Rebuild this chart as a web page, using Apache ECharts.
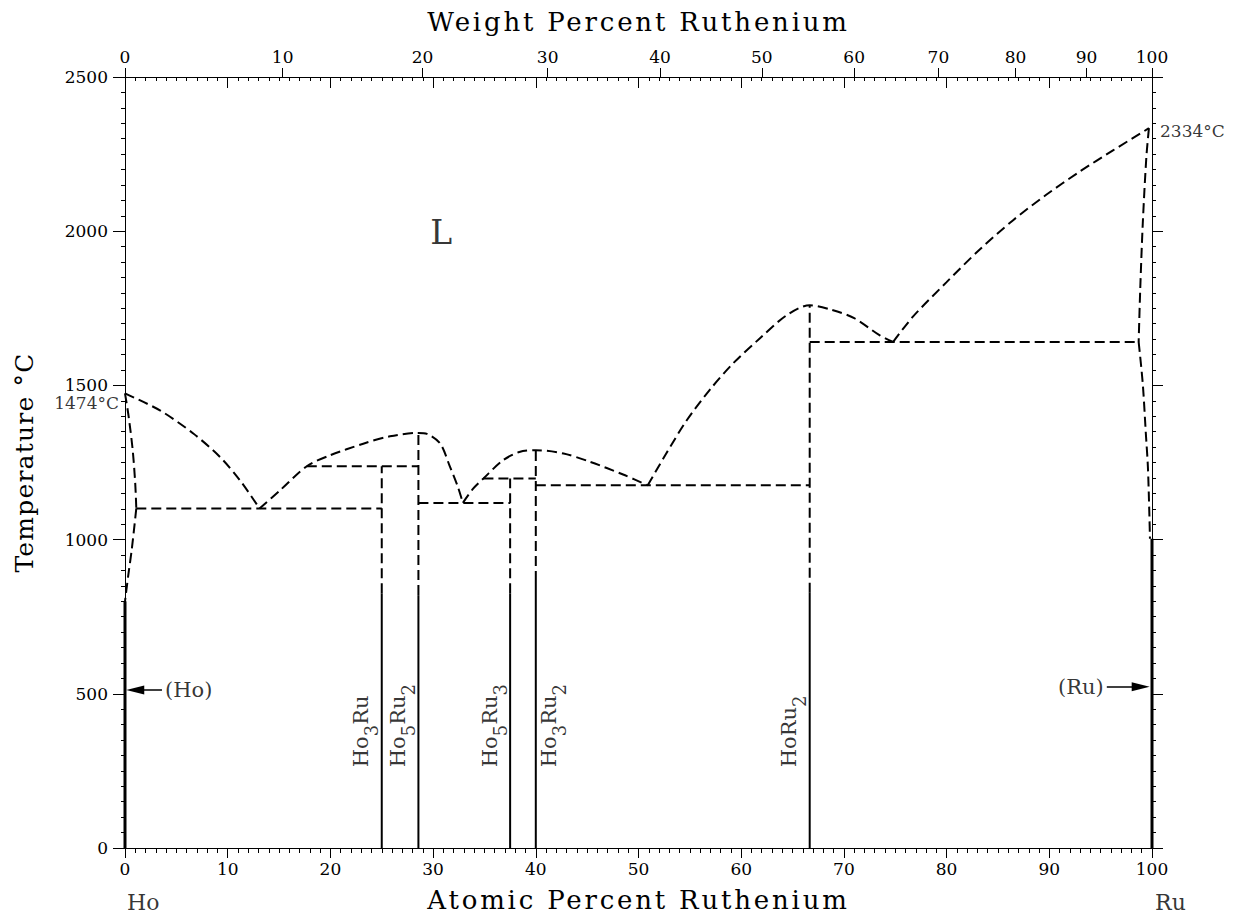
<!DOCTYPE html>
<html>
<head>
<meta charset="utf-8">
<script src="https://cdn.jsdelivr.net/npm/echarts@6/dist/echarts.min.js"></script>
<style>
html,body{margin:0;padding:0;background:#fff;}
#chart{width:1233px;height:918px;}
#chart text[style*="26px"]{letter-spacing:2.8px;}
#chart text[style*="25px"]{letter-spacing:1.2px;}
</style>
</head>
<body>
<div id="chart"></div>
<script>
// ---------- axis / tick data ----------
const MASS_HO = 164.93;
const MASS_RU = 101.07;
const atomicRange = [0, 100];
const atomicStep = 10;
const tempRange = [0, 2500];
const tempStep = 500;
const weightTickLabels = [0, 10, 20, 30, 40, 50, 60, 70, 80, 90, 100];

// ---------- phase boundaries (at.% Ru, °C) ----------
const liquidusHoSide   = [[0,1474],[3.4,1419],[6.65,1344],[9.25,1268],[11.2,1192],[13.1,1101]];
const liquidusHo5Ru2   = [[13.1,1101],[15.1,1160],[17.7,1238],[19.95,1273],[23.2,1311],[25.8,1335],[28.57,1346],[29.4,1343],[30.7,1311],[31.6,1240],[32.4,1172],[32.9,1119]];
const liquidusHo3Ru2   = [[32.9,1119],[33.9,1165],[34.9,1198],[36.8,1257],[38.4,1284],[40,1290],[42.7,1279],[45.3,1252],[48.5,1211],[50.9,1176]];
const liquidusHoRu2    = [[50.9,1176],[52.7,1279],[54.7,1387],[56.9,1484],[59.2,1571],[61.8,1652],[64.4,1727],[66.67,1760],[68.8,1745],[71,1718],[73.5,1662],[74.8,1641]];
const liquidusRuSide   = [[74.8,1641],[76.7,1722],[80,1835],[83.2,1940],[86.45,2035],[89.7,2118],[92.9,2192],[96.2,2262],[99.7,2334]];
const solvusHoUpper    = [[0,1474],[0.35,1400],[0.75,1290],[1.0,1180],[1.1,1101]];
const solvusHoLower    = [[1.1,1101],[0.65,966],[0.3,880],[0,800]];
const solvusRuUpper    = [[99.7,2334],[99.45,2240],[99.1,2024],[98.85,1808],[98.7,1641]];
const solvusRuLower    = [[98.7,1641],[99.1,1506],[99.4,1344],[99.6,1236],[99.75,1074],[99.8,1003]];

// invariant (horizontal) reactions
const invariantT    = [1101, 1238, 1119, 1198, 1176, 1641];
const invariantFrom = [1.1, 17.7, 28.57, 34.9, 40, 66.67];
const invariantTo   = [25, 28.57, 37.5, 40, 66.67, 98.7];

// intermediate compounds
const compoundNames    = ['Ho3Ru', 'Ho5Ru2', 'Ho5Ru3', 'Ho3Ru2', 'HoRu2'];
const compoundX        = [25, 28.57, 37.5, 40, 66.67];
const compoundTopT     = [1238, 1346, 1198, 1290, 1760];
const compoundSolidTop = [826, 820, 826, 866, 828];

// pure elements (solid solution ranges at low T)
const elementX        = [0, 100];
const elementSolidTop = [800, 1003];

// text annotations
const annotationTexts = ['L', '1474°C', '2334°C', '(Ho)', '(Ru)', 'Ho', 'Ru'];
const arrowLabels = ['(Ho)', '(Ru)'];
const arrowT      = [512, 523];
const arrowFrom   = [3.6, 95.6];
const arrowTo     = [1.0, 98.9];

// ---------- helpers ----------
const FONT = 'DejaVu Serif';
const BLACK = '#000';
function wtToAt(w) { const r = w / MASS_RU, h = (100 - w) / MASS_HO; return 100 * r / (r + h); }
function atToWt(a) { const r = a * MASS_RU, h = (100 - a) * MASS_HO; return 100 * r / (r + h); }
const weightTickPos = weightTickLabels.map(wtToAt);

const DASH = [10, 5];
function lineSeries(data, dashed, width, smooth) {
  return {
    type: 'line', xAxisIndex: 0, yAxisIndex: 0, data: data,
    symbol: 'none', clip: false, silent: true, smooth: smooth || false,
    lineStyle: { color: BLACK, width: width, type: dashed ? DASH : 'solid', cap: 'butt' },
    z: 3
  };
}

const series = [];
[liquidusHoSide, liquidusHo5Ru2, liquidusHo3Ru2, liquidusHoRu2, liquidusRuSide,
 solvusHoUpper, solvusHoLower, solvusRuUpper, solvusRuLower].forEach(d => series.push(lineSeries(d, true, 2, 0.3)));
invariantT.forEach((t, i) => series.push(lineSeries([[invariantFrom[i], t], [invariantTo[i], t]], true, 2)));
compoundX.forEach((x, i) => {
  series.push(lineSeries([[x, compoundSolidTop[i]], [x, compoundTopT[i]]], true, 2));
  series.push(lineSeries([[x, 0], [x, compoundSolidTop[i]]], false, 2));
});
elementX.forEach((x, i) => series.push(lineSeries([[x, 0], [x, elementSolidTop[i]]], false, 3)));

// compound labels (rotated, with subscripts)
const COMPOUND_LABEL_T = 262;
function formula(name) {
  return name.match(/[A-Za-z]+|\d+/g).map(t => /\d/.test(t) ? '{s|' + t + '}' : '{n|' + t + '}').join('');
}
series.push({
  type: 'scatter', xAxisIndex: 0, yAxisIndex: 0, symbolSize: 0, clip: false, silent: true, z: 5,
  data: compoundNames.map((n, i) => ({
    value: [compoundX[i], COMPOUND_LABEL_T], name: n,
    label: { verticalAlign: n === 'Ho3Ru2' ? 'top' : 'bottom', position: [n === 'Ho3Ru2' ? 3 : -1, 0] }
  })),
  label: {
    show: true, rotate: 90, align: 'left', verticalAlign: 'bottom', position: [0, 0],
    formatter: p => formula(p.name),
    color: BLACK, fontFamily: FONT, fontSize: 21, lineHeight: 30,
    rich: {
      n: { color: BLACK, fontFamily: FONT, fontSize: 21, lineHeight: 30, verticalAlign: 'top' },
      s: { color: BLACK, fontFamily: FONT, fontSize: 18, lineHeight: 30, verticalAlign: 'bottom' }
    }
  }
});

// free text annotations + arrows
const annotationCfg = {
  'L':      { at: [30.8, 1996], size: 33, align: 'center', dx: 0 },
  '1474°C': { at: [0, 1442],    size: 17, align: 'right',  dx: -6 },
  '2334°C': { at: [100, 2326],  size: 17, align: 'left',   dx: 8 },
  '(Ho)':   { at: [3.9, 512],   size: 21, align: 'left',   dx: 0 },
  '(Ru)':   { at: [95.3, 523],  size: 21, align: 'right',  dx: 0 },
  'Ho':     { at: [0.2, -178],  size: 22, align: 'left',   dx: 0 },
  'Ru':     { at: [100.3, -178],size: 22, align: 'left',   dx: 0 }
};
series.push({
  type: 'scatter', xAxisIndex: 0, yAxisIndex: 0, symbolSize: 0, clip: false, silent: true, z: 5,
  data: annotationTexts.map(t => {
    const c = annotationCfg[t];
    return {
      value: c.at, name: t,
      label: { show: true, formatter: t, position: [c.dx, 0], align: c.align, verticalAlign: 'middle',
               fontSize: c.size, lineHeight: Math.round(c.size * 0.85), fontFamily: FONT, color: BLACK }
    };
  }),
  markLine: {
    silent: true, animation: false, symbol: ['none', 'triangle'], symbolSize: [9, 18],
    lineStyle: { color: BLACK, width: 1.5, type: 'solid' },
    label: { show: false },
    data: arrowLabels.map((l, i) => [{ coord: [arrowFrom[i], arrowT[i]] }, { coord: [arrowTo[i], arrowT[i]] }])
  }
});

const axisLineStyle = { color: BLACK, width: 1 };
const labelStyle = { color: BLACK, fontFamily: FONT, fontSize: 17, lineHeight: 14 };
const GRID = { left: 125, right: 81, top: 77, bottom: 70 };

const option = {
  animation: false,
  backgroundColor: '#fff',
  grid: [Object.assign({}, GRID), Object.assign({}, GRID)],
  xAxis: [
    { gridIndex: 0, type: 'value', position: 'bottom', min: atomicRange[0], max: atomicRange[1], interval: atomicStep,
      axisLine: { show: true, onZero: false, lineStyle: axisLineStyle },
      axisTick: { show: true, inside: false, length: 10, lineStyle: axisLineStyle },
      minorTick: { show: true, splitNumber: 10, length: 5, lineStyle: axisLineStyle },
      axisLabel: Object.assign({ margin: 14, formatter: v => String(v) }, labelStyle),
      splitLine: { show: false }, minorSplitLine: { show: false },
      name: 'Atomic Percent Ruthenium', nameLocation: 'middle', nameGap: 39,
      nameTextStyle: { color: BLACK, fontFamily: FONT, fontSize: 26 } },
    { gridIndex: 0, type: 'value', position: 'top', min: atomicRange[0], max: atomicRange[1], interval: atomicStep,
      axisLine: { show: true, onZero: false, lineStyle: axisLineStyle },
      axisTick: { show: true, inside: true, length: 11, lineStyle: axisLineStyle },
      minorTick: { show: true, splitNumber: 10, length: 4, lineStyle: axisLineStyle },
      axisLabel: { show: false }, splitLine: { show: false } },
    { gridIndex: 1, type: 'value', position: 'top', min: atomicRange[0], max: atomicRange[1],
      axisLine: { show: false, onZero: false },
      axisTick: { show: true, inside: false, length: 9, lineStyle: axisLineStyle, customValues: weightTickPos },
      axisLabel: Object.assign({ margin: 13, customValues: weightTickPos, hideOverlap: false,
        formatter: v => String(Math.round(atToWt(v))) }, labelStyle),
      splitLine: { show: false },
      name: 'Weight Percent Ruthenium', nameLocation: 'middle', nameGap: 42,
      nameTextStyle: { color: BLACK, fontFamily: FONT, fontSize: 26 } }
  ],
  yAxis: [
    { gridIndex: 0, type: 'value', position: 'left', min: tempRange[0], max: tempRange[1], interval: tempStep,
      axisLine: { show: true, onZero: false, lineStyle: axisLineStyle },
      axisTick: { show: true, inside: false, length: 12, lineStyle: axisLineStyle },
      minorTick: { show: true, splitNumber: 10, length: 4, lineStyle: axisLineStyle },
      axisLabel: Object.assign({ margin: 17, formatter: v => String(v) }, labelStyle),
      splitLine: { show: false },
      name: 'Temperature °C', nameLocation: 'middle', nameGap: 88,
      nameTextStyle: { color: BLACK, fontFamily: FONT, fontSize: 25 } },
    { gridIndex: 0, type: 'value', position: 'right', min: tempRange[0], max: tempRange[1], interval: tempStep,
      axisLine: { show: true, onZero: false, lineStyle: axisLineStyle },
      axisTick: { show: true, inside: false, length: 11, lineStyle: axisLineStyle },
      minorTick: { show: true, splitNumber: 10, length: 4, lineStyle: axisLineStyle },
      axisLabel: { show: false }, splitLine: { show: false } },
    { gridIndex: 1, type: 'value', show: false, min: tempRange[0], max: tempRange[1] }
  ],
  series: series
};

const chart = echarts.init(document.getElementById('chart'), null, { renderer: 'svg', width: 1233, height: 918 });
chart.setOption(option);
</script>
</body>
</html>
